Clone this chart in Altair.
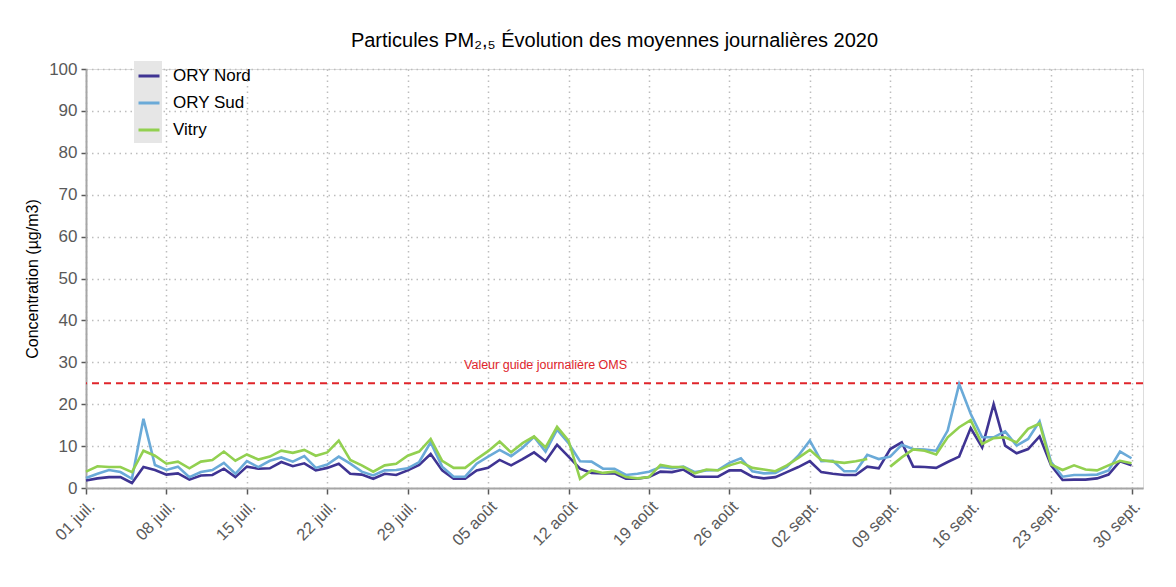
import altair as alt
import pandas as pd

dates = pd.date_range("2020-07-01", "2020-09-30", freq="D").strftime("%Y-%m-%d").tolist()

ory_nord = [1.8, 2.3, 2.6, 2.6, 1.2, 5.0, 4.3, 3.2, 3.5, 2.0, 3.0, 3.1, 4.6, 2.6, 5.1, 4.6, 4.7, 6.2, 5.2, 5.9, 4.2, 4.8, 5.8,
            3.4, 3.2, 2.2, 3.4, 3.1, 4.2, 5.5, 8.1, 4.2, 2.2, 2.2, 4.2, 4.8, 6.7, 5.4, 6.9, 8.5, 6.4, 10.3, 7.5, 4.6, 3.6, 3.5,
            3.5, 2.2, 2.2, 2.6, 3.9, 3.8, 4.4, 2.7, 2.7, 2.7, 4.2, 4.2, 2.7, 2.3, 2.6, 3.8, 5.0, 6.4, 3.8, 3.4, 3.1, 3.1, 5.1, 4.7,
            9.3, 10.9, 5.1, 5.0, 4.8, 6.2, 7.5, 14.3, 9.7, 20.0, 10.1, 8.3, 9.3, 12.3, 5.4, 1.9, 2.0, 2.0, 2.3, 3.2, 6.4, 5.4]

ory_sud = [2.4, 3.4, 4.3, 3.8, 2.2, 16.5, 5.5, 4.3, 5.1, 2.6, 3.8, 4.3, 6.0, 3.4, 6.4, 5.0, 6.5, 7.3, 6.3, 7.6, 4.8, 5.6, 7.5,
           5.8, 3.9, 3.0, 4.2, 4.3, 4.7, 6.2, 10.9, 5.1, 2.7, 2.7, 5.8, 7.5, 9.1, 7.6, 9.6, 12.2, 8.7, 13.9, 10.7, 6.4, 6.3, 4.6,
           4.6, 3.1, 3.4, 3.9, 5.0, 4.7, 5.1, 3.8, 4.2, 4.3, 6.0, 7.1, 4.0, 3.5, 3.6, 5.0, 7.7, 11.3, 6.4, 6.5, 4.0, 4.0, 7.9, 6.9,
           7.5, 10.3, 9.3, 9.2, 8.9, 13.7, 24.8, 17.7, 12.1, 12.1, 13.5, 10.1, 11.7, 15.9, 6.2, 2.7, 3.1, 3.1, 3.2, 4.2, 8.7, 7.1]

vitry = [3.9, 5.2, 5.0, 5.0, 3.8, 8.9, 7.7, 5.8, 6.3, 4.7, 6.3, 6.7, 8.7, 6.5, 8.0, 6.8, 7.5, 8.9, 8.4, 9.1, 7.7, 8.5, 11.3,
         6.7, 5.4, 3.9, 5.4, 5.8, 7.7, 8.7, 11.7, 6.5, 4.8, 4.8, 6.9, 8.8, 11.1, 8.5, 10.7, 12.3, 9.7, 14.6, 11.3, 2.2, 4.2, 3.6,
         3.9, 2.6, 2.3, 2.6, 5.5, 5.0, 5.0, 3.5, 4.4, 4.2, 5.4, 6.2, 4.8, 4.4, 4.0, 5.4, 7.2, 9.1, 6.7, 6.3, 6.0, 6.4, 6.9, None,
         5.1, 7.3, 9.2, 8.9, 8.0, 12.1, 14.5, 16.2, 10.5, 11.9, 12.1, 10.9, 14.1, 15.4, 5.6, 4.3, 5.4, 4.4, 4.2, 5.4, 6.5, 5.9]

stations = ["ORY Nord", "ORY Sud", "Vitry"]
colors = ["#3f3493", "#6aaad8", "#92d050"]

tick_labels = ["01 juil.", "08 juil.", "15 juil.", "22 juil.", "29 juil.", "05 août", "12 août",
               "19 août", "26 août", "02 sept.", "09 sept.", "16 sept.", "23 sept.", "30 sept."]
tick_dates = dates[::7]

oms_value = 25
oms_label = "Valeur guide journalière OMS"
oms_label_date = "2020-08-10"
oms_label_y = 29.4

title_text = "Particules PM\u2082,\u2085 Évolution des moyennes journalières 2020"

rows = []
for name, series in zip(stations, [ory_nord, ory_sud, vitry]):
    for d, v in zip(dates, series):
        rows.append({"date": d, "station": name, "value": v})
df = pd.DataFrame(rows)

FONT = "Liberation Sans"
label_arr = "[" + ",".join("'" + t + "'" for t in tick_labels) + "]"
GRID = dict(grid=True, gridDash=[1.5, 4], gridColor="#bdbdbd", gridWidth=1.5)

x_axis = alt.Axis(
    values=[alt.DateTime(year=int(d[:4]), month=int(d[5:7]), date=int(d[8:]), utc=True) for d in tick_dates],
    labelExpr=label_arr + "[round((datum.value - utc(2020, 6, 1)) / 604800000)]",
    labelAngle=315, labelAlign="right", labelBaseline="top",
    labelFontSize=16.5, labelColor="#595959", labelFont=FONT, labelPadding=4,
    title=None, domainColor="#a6a6a6", domainWidth=2, tickColor="#595959", tickSize=6, tickWidth=1.5,
    **GRID,
)
y_axis = alt.Axis(
    values=list(range(0, 101, 10)), title="Concentration (µg/m3)", titleFontSize=16,
    titleFont=FONT, titleFontWeight="normal", titleColor="black", titlePadding=8,
    labelFontSize=17, labelColor="#595959", labelFont=FONT, labelPadding=4,
    domainColor="#a6a6a6", domainWidth=2, tickColor="#595959", tickSize=5, tickWidth=1.5,
    **GRID,
)

x_scale = alt.Scale(type="utc", domain=[alt.DateTime(year=2020, month=7, date=1, utc=True),
                                        alt.DateTime(year=2020, month=10, date=1, utc=True)])

legend_bg = alt.Chart(pd.DataFrame({"k": [0]})).mark_rect(color="#e6e6e6").encode(
    x=alt.value(48), x2=alt.value(76), y=alt.value(-8), y2=alt.value(74)
)

lines = alt.Chart(df).mark_line(strokeWidth=2.6, invalid="break-paths-filter-domains").encode(
    x=alt.X("date:T", scale=x_scale, axis=x_axis),
    y=alt.Y("value:Q", scale=alt.Scale(domain=[0, 100]), axis=y_axis),
    color=alt.Color("station:N", scale=alt.Scale(domain=stations, range=colors),
                    legend=alt.Legend(orient="none", legendX=51, legendY=-5, title=None,
                                      symbolType="stroke", symbolSize=441, symbolStrokeWidth=3,
                                      labelFontSize=17, labelFont=FONT, labelColor="black",
                                      labelOffset=12, rowPadding=7, padding=0)),
)

rule = alt.Chart(pd.DataFrame({"v": [oms_value]})).mark_rule(
    color="#e0252b", strokeDash=[7, 5], strokeWidth=2
).encode(y="v:Q")

ann = alt.Chart(pd.DataFrame({"date": [oms_label_date], "value": [oms_label_y], "label": [oms_label]})).mark_text(
    color="#e0252b", fontSize=12.5, font=FONT
).encode(x=alt.X("date:T", scale=x_scale), y="value:Q", text="label:N")

chart = alt.layer(legend_bg, rule, lines, ann).properties(
    width=1057, height=419,
    title=alt.TitleParams(title_text, fontSize=20, font=FONT, fontWeight="normal", color="black",
                          anchor="middle", offset=9),
    padding={"left": 16, "top": 23, "right": 10, "bottom": 5},
).configure_view(stroke=None).configure(background="white")

chart.save("out.html", embed_options={"renderer": "svg", "actions": False})
